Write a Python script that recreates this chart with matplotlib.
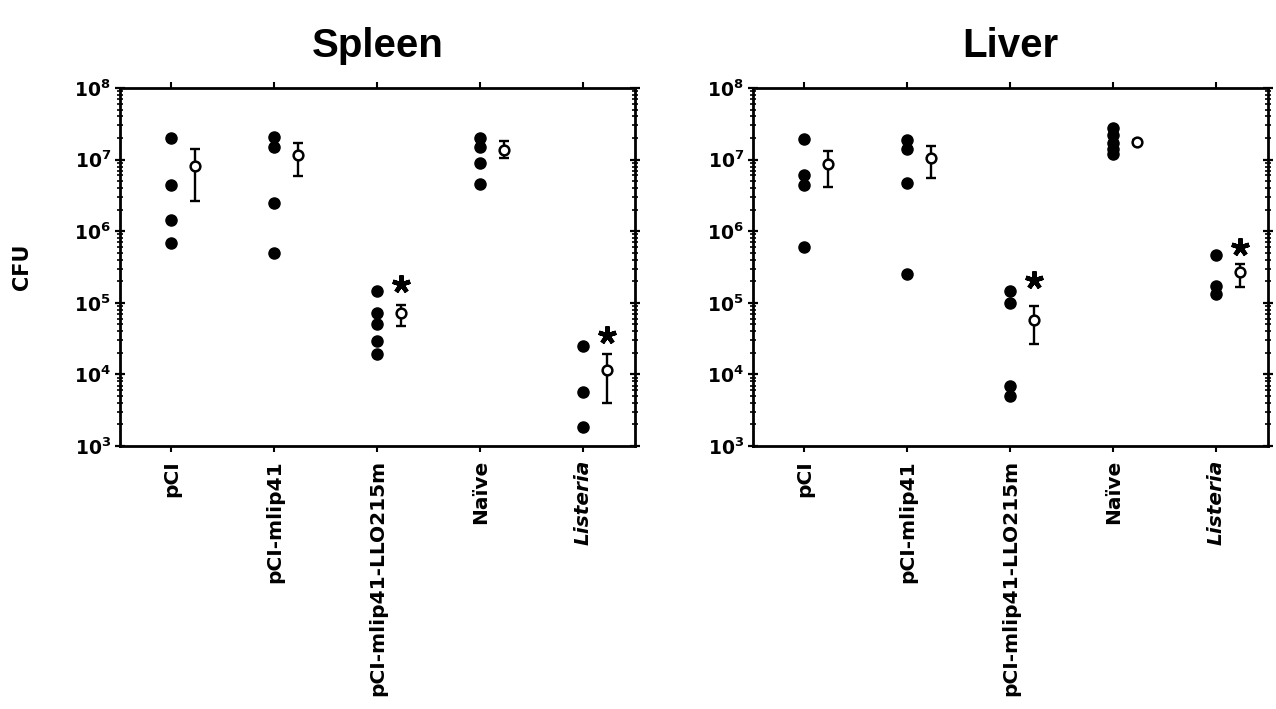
import matplotlib
matplotlib.use("Agg")
import matplotlib.pyplot as plt
import numpy as np
from matplotlib.ticker import LogLocator, FixedLocator, NullFormatter
from matplotlib.font_manager import FontProperties

plt.rcParams['font.family'] = ['DejaVu Sans']
plt.rcParams['mathtext.fontset'] = 'dejavusans'

# ---------------- data ----------------
categories = ["pCI", "pCI-mlip41", "pCI-mlip41-LLO215m", "Naïve", "Listeria"]

spleen_points = [
    [2.0e7, 4.4e6, 1.45e6, 6.9e5],
    [2.1e7, 1.48e7, 2.5e6, 4.9e5],
    [1.44e5, 7.1e4, 5.1e4, 2.9e4, 1.9e4],
    [2.0e7, 1.48e7, 8.9e6, 4.5e6],
    [2.5e4, 5.6e3, 1.85e3],
]
spleen_mean = [8.1e6, 1.15e7, 7.1e4, 1.38e7, 1.16e4]
spleen_hi = [1.4e7, 1.7e7, 9.4e4, 1.8e7, 1.9e4]
spleen_lo = [2.6e6, 5.9e6, 4.8e4, 1.04e7, 4.0e3]
spleen_star_cat = [2, 4]
spleen_star_y = [1.86e5, 3.5e4]

liver_points = [
    [1.95e7, 6.0e6, 4.4e6, 6.0e5],
    [1.9e7, 1.4e7, 4.7e6, 2.5e5],
    [1.48e5, 9.8e4, 6.8e3, 5.0e3],
    [2.76e7, 2.2e7, 1.7e7, 1.4e7, 1.2e7],
    [4.6e5, 1.7e5, 1.33e5],
]
liver_mean = [8.7e6, 1.05e7, 5.7e4, 1.74e7, 2.7e5]
liver_hi = [1.3e7, 1.53e7, 8.9e4, 1.85e7, 3.5e5]
liver_lo = [4.2e6, 5.6e6, 2.7e4, 1.64e7, 1.66e5]
liver_star_cat = [2, 4]
liver_star_y = [2.1e5, 6.0e5]

titles = ["Spleen", "Liver"]
ytick_vals = [1e3, 1e4, 1e5, 1e6, 1e7, 1e8]
ytick_labels = [r"$\mathbf{10^{3}}$", r"$\mathbf{10^{4}}$", r"$\mathbf{10^{5}}$",
                r"$\mathbf{10^{6}}$", r"$\mathbf{10^{7}}$", r"$\mathbf{10^{8}}$"]
ylabel = "CFU"

# ---------------- figure ----------------
fig = plt.figure(figsize=(12.76, 7.09), dpi=100)
axL = fig.add_axes([0.0940, 0.3709, 0.4036, 0.5050])
axR = fig.add_axes([0.5901, 0.3709, 0.4036, 0.5050])

OFF = 0.23

panels = [
    (axL, spleen_points, spleen_mean, spleen_lo, spleen_hi, spleen_star_cat, spleen_star_y, titles[0]),
    (axR, liver_points, liver_mean, liver_lo, liver_hi, liver_star_cat, liver_star_y, titles[1]),
]

title_fp = FontProperties(family=['Liberation Sans', 'DejaVu Sans'], weight='bold', size=29)
ylab_fp = FontProperties(family=['DejaVu Sans'], weight='bold', size=15)

for ax, pts, mean, lo, hi, scat, sy, title in panels:
    ax.set_yscale('log')
    ax.set_ylim(1e3, 1e8)
    ax.set_xlim(-0.5, 4.5)
    for i, vals in enumerate(pts):
        ax.plot([i] * len(vals), vals, 'o', color='black', markersize=8.0,
                linestyle='none', zorder=3)
    xm = np.arange(len(mean)) + OFF
    mean_a = np.array(mean)
    yerr = np.vstack([mean_a - np.array(lo), np.array(hi) - mean_a])
    ax.errorbar(xm, mean_a, yerr=yerr, fmt='none', ecolor='black',
                elinewidth=1.7, capsize=3.8, capthick=1.7, zorder=2)
    ax.plot(xm, mean_a, 'o', markerfacecolor='white', markeredgecolor='black',
            markeredgewidth=1.8, markersize=7.0, linestyle='none', zorder=4)
    ax.plot(np.array(scat) + OFF, sy, linestyle='none', marker=(5, 2, 0),
            color='black', markersize=13, markeredgewidth=3.2, zorder=4)

    ax.set_xticks(range(len(categories)))
    ax.set_xticklabels(categories, rotation=90, fontsize=14.5, fontweight='bold')
    for lbl in ax.get_xticklabels():
        if lbl.get_text() == "Listeria":
            lbl.set_fontstyle('italic')
    ax.yaxis.set_major_locator(FixedLocator(ytick_vals))
    ax.set_yticklabels(ytick_labels, fontsize=13.5)
    ax.yaxis.set_minor_locator(LogLocator(base=10, subs=np.arange(2, 10)))
    ax.yaxis.set_minor_formatter(NullFormatter())
    ax.tick_params(axis='y', which='major', direction='inout', length=7, width=1.6,
                   left=True, right=True, pad=3)
    ax.tick_params(axis='y', which='minor', direction='inout', length=4, width=1.2,
                   left=True, right=True)
    ax.tick_params(axis='x', which='major', direction='out', length=4, width=1.5,
                   top=True, bottom=True, pad=6)
    for sp in ax.spines.values():
        sp.set_linewidth(2.0)
    ax.set_title(title, fontproperties=title_fp, pad=22)

fig.text(0.017, 0.3709 + 0.5050 / 2, ylabel, rotation=90, fontproperties=ylab_fp,
         ha='center', va='center')

fig.savefig("out.png", dpi=100)
